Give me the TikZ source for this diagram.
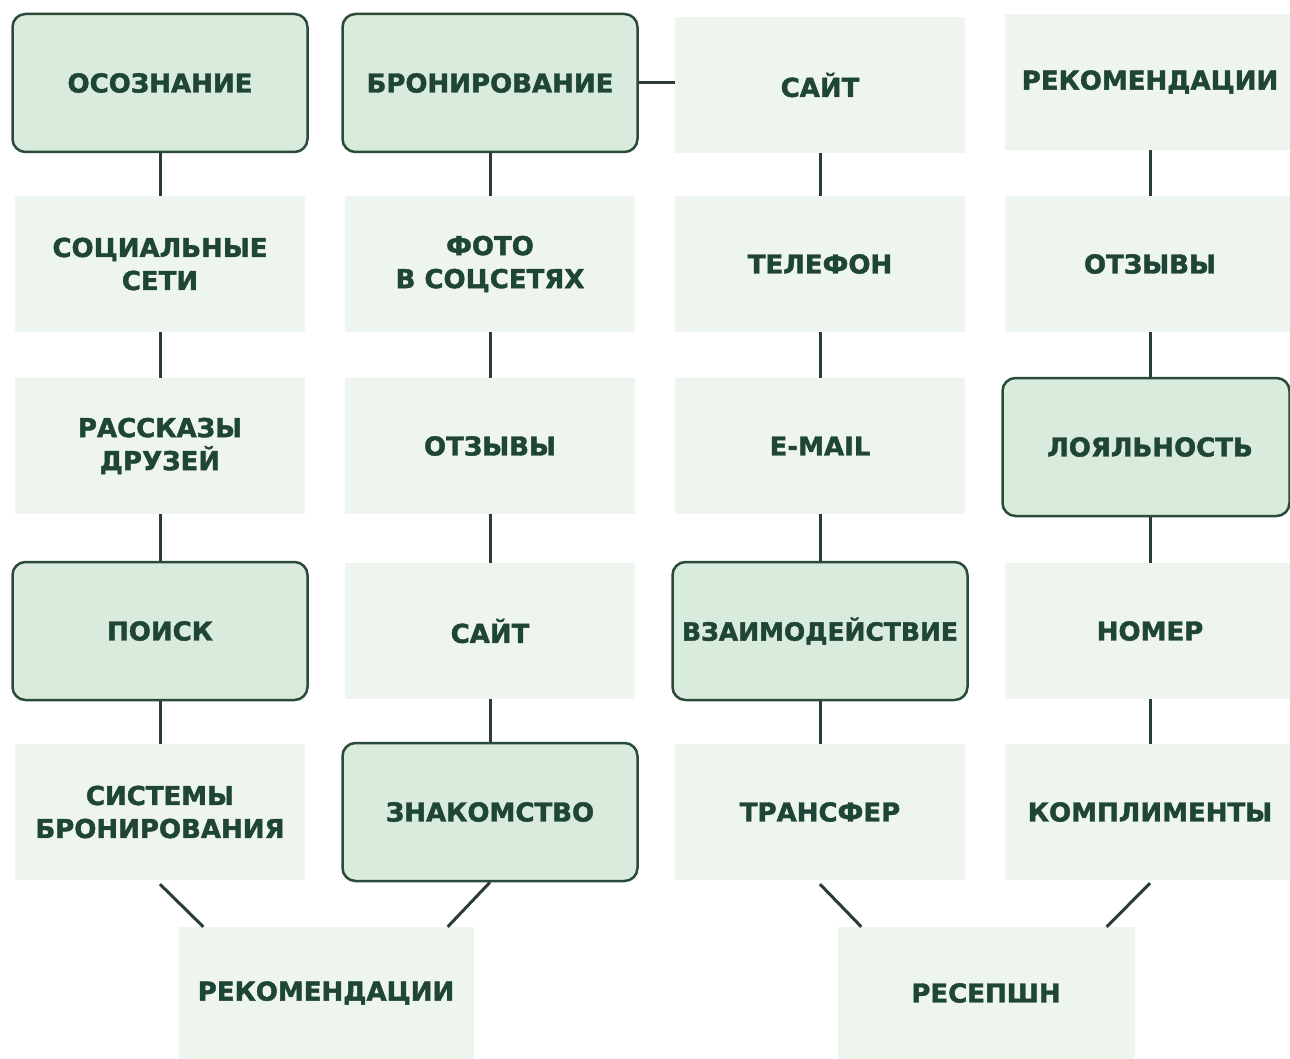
\documentclass[tikz,border=0pt]{standalone}
\usepackage{fontspec}
\setmainfont{DejaVu Sans}
\newfontfamily\heavyfont[FakeBold=1.6]{DejaVu Sans Bold}
\usetikzlibrary{positioning}
\definecolor{txtc}{HTML}{1E4535}
\definecolor{linec}{HTML}{2A3D33}
\definecolor{hifill}{HTML}{D9EBDC}
\definecolor{hidraw}{HTML}{2C4A3A}
\definecolor{plfill}{HTML}{EDF5EE}
\tikzset{
  base/.style={inner sep=0pt, align=center, text=txtc,
    font=\heavyfont\fontsize{26}{33}\selectfont},
  hibox/.style={base, fill=hifill, draw=hidraw, line width=2.5pt,
    rounded corners=13pt, minimum width=295pt, minimum height=138pt},
  plbox/.style={base, fill=plfill, minimum width=290pt, minimum height=136pt},
  conn/.style={draw=linec, line width=3pt}
}
\begin{document}
\begin{tikzpicture}[x=1pt,y=-1pt]
\useasboundingbox (0,0) rectangle (1290,1059);
\fill[white] (0,0) rectangle (1290,1059);
% column 1
\node[hibox] (a1) at (160,83) {ОСОЗНАНИЕ};
\node[plbox] (a2) at (160,264) {СОЦИАЛЬНЫЕ\\СЕТИ};
\node[plbox] (a3) at (160,446) {РАССКАЗЫ\\ДРУЗЕЙ};
\node[hibox] (a4) at (160,631) {ПОИСК};
\node[plbox] (a5) at (160,812) {СИСТЕМЫ\\БРОНИРОВАНИЯ};
% column 2
\node[hibox] (b1) at (490,83) {БРОНИРОВАНИЕ};
\node[plbox] (b2) at (490,264) {ФОТО\\В СОЦСЕТЯХ};
\node[plbox] (b3) at (490,446) {ОТЗЫВЫ};
\node[plbox] (b4) at (490,631) {САЙТ};
\node[hibox] (b5) at (490,812) {ЗНАКОМСТВО};
% column 3
\node[plbox] (c1) at (820,85) {САЙТ};
\node[plbox] (c2) at (820,264) {ТЕЛЕФОН};
\node[plbox] (c3) at (820,446) {E-MAIL};
\node[hibox, font=\heavyfont\fontsize{25}{33}\selectfont] (c4) at (820,631) {ВЗАИМОДЕЙСТВИЕ};
\node[plbox] (c5) at (820,812) {ТРАНСФЕР};
% column 4
\node[plbox] (d1) at (1150,82) {РЕКОМЕНДАЦИИ};
\node[plbox] (d2) at (1150,264) {ОТЗЫВЫ};
\node[hibox, minimum width=287pt] (d3) at (1146,447) {\hspace*{8pt}ЛОЯЛЬНОСТЬ};
\node[plbox] (d4) at (1150,631) {НОМЕР};
\node[plbox] (d5) at (1150,812) {КОМПЛИМЕНТЫ};
% bottom
\node[plbox, minimum width=295pt, minimum height=132pt] (r1) at (326,993) {РЕКОМЕНДАЦИИ};
\node[plbox, minimum width=297pt, minimum height=132pt] (r2) at (986,993) {РЕСЕПШН};
% connectors
\foreach \c in {a,b,c}{
  \draw[conn] (\c1.south) -- (\c2.north);
  \draw[conn] (\c2.south) -- (\c3.north);
  \draw[conn] (\c3.south) -- (\c4.north);
  \draw[conn] (\c4.south) -- (\c5.north);
}
\draw[conn] (d1.south) -- (d2.north);
\draw[conn] (d2.south) -- (d2.south |- d3.north);
\draw[conn] (d4.north |- d3.south) -- (d4.north);
\draw[conn] (d4.south) -- (d5.north);
\draw[conn] (b1.east) -- (c1.west |- b1.east);
\draw[conn] ([yshift=-4pt]a5.south) -- ([xshift=25pt]r1.north west);
\draw[conn] (b5.south) -- ([xshift=-26pt]r1.north east);
\draw[conn] ([yshift=-4pt]c5.south) -- ([xshift=24pt]r2.north west);
\draw[conn] ([yshift=-3pt]d5.south) -- ([xshift=-28pt]r2.north east);
\end{tikzpicture}
\end{document}
